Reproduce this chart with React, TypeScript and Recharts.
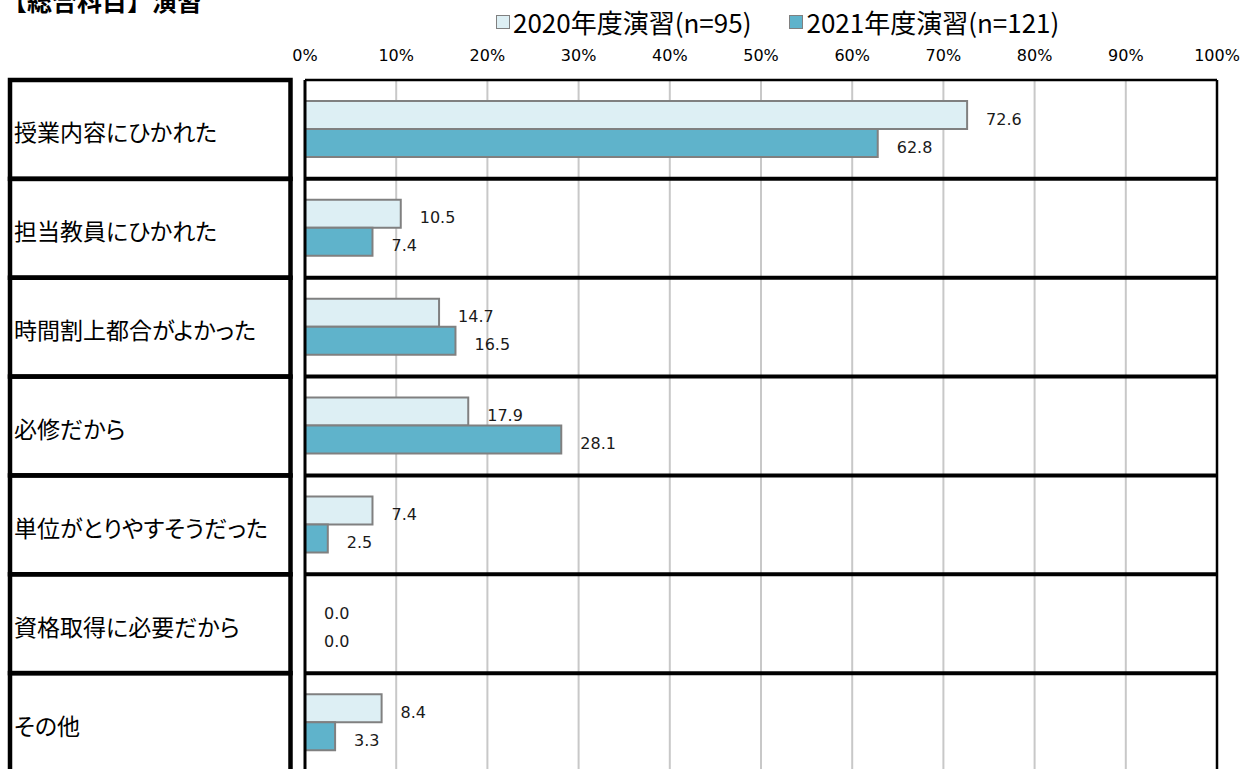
import { BarChart, Bar, XAxis, YAxis, CartesianGrid, Legend, LabelList, ReferenceLine, Rectangle } from 'recharts';

// 回答項目と各年度の割合(%)
const categories = [
  '授業内容にひかれた',
  '担当教員にひかれた',
  '時間割上都合がよかった',
  '必修だから',
  '単位がとりやすそうだった',
  '資格取得に必要だから',
  'その他',
];
const values2020 = [72.6, 10.5, 14.7, 17.9, 7.4, 0.0, 8.4];
const values2021 = [62.8, 7.4, 16.5, 28.1, 2.5, 0.0, 3.3];
const xTicks = [0, 10, 20, 30, 40, 50, 60, 70, 80, 90, 100];

const seriesNames = ['2020年度演習(n=95)', '2021年度演習(n=121)'];
const colors = ['#ddeff4', '#5fb3cb'];
const edge = '#808080';

const title = '【総合科目】演習';

// レイアウト
const CHART_W = 1253;
const CHART_H = 780;
const MARGIN = { top: 50, right: 36, bottom: 8, left: 10 };
const Y_AXIS_W = 295;
const X_AXIS_H = 30;
const PLOT_L = MARGIN.left + Y_AXIS_W;
const PLOT_R = CHART_W - MARGIN.right;
const PLOT_H = CHART_H - MARGIN.top - X_AXIS_H - MARGIN.bottom;
const ROW = PLOT_H / categories.length;
const BOX_L = 10;
const BOX_R = 290.5;

const data = categories.map((name, i) => ({
  name,
  y2020: values2020[i],
  y2021: values2021[i],
}));

// 左側の項目ボックス + 行区切り線
const CategoryTick = (props: any) => {
  const { y, payload } = props;
  const top = y - ROW / 2;
  const bottom = y + ROW / 2;
  return (
    <g>
      <rect x={BOX_L} y={top} width={BOX_R - BOX_L} height={ROW} fill="none" stroke="#000" strokeWidth={4.5} />
      <text
        x={14}
        y={y + 2}
        dominantBaseline="central"
        fontSize={23}
        fontFamily="Noto Sans CJK JP"
        fill="#000"
        style={{ fontFeatureSettings: '"palt"' }}
      >
        {payload.value}
      </text>
      <line x1={PLOT_L} x2={PLOT_R} y1={bottom} y2={bottom} stroke="#000" strokeWidth={4} />
    </g>
  );
};

const ValueLabel = (props: any) => {
  const { x, y, width, height, value } = props;
  return (
    <text
      x={x + width + 19}
      y={y + height / 2 + 4}
      dominantBaseline="central"
      fontSize={16}
      fontFamily="DejaVu Sans"
      fill="#1a1a1a"
    >
      {Number(value).toFixed(1)}
    </text>
  );
};

// 0% の棒は枠線も描かない
const BarShape = (props: any) => (props.width < 0.5 ? <g /> : <Rectangle {...props} />);

const LegendBox = () => (
  <div style={{ display: 'flex', alignItems: 'center', fontFamily: 'Noto Sans CJK JP', fontSize: 26, color: '#000', whiteSpace: 'nowrap' }}>
    {seriesNames.map((n, i) => (
      <div key={n} style={{ display: 'flex', alignItems: 'center', marginRight: i === 0 ? 38 : 0 }}>
        <span style={{ display: 'inline-block', width: 12, height: 12, background: colors[i], border: `1.5px solid ${edge}`, marginRight: 3 }} />
        <span>{n}</span>
      </div>
    ))}
  </div>
);

export default function App() {
  return (
    <div style={{ position: 'fixed', left: 0, top: 0, width: 1253, height: 769, overflow: 'hidden', background: '#fff' }}>
      <div
        style={{
          position: 'absolute',
          left: 2,
          top: -18,
          fontFamily: 'Noto Sans CJK JP',
          fontSize: 25,
          fontWeight: 'bold',
          color: '#000',
          whiteSpace: 'nowrap',
        }}
      >
        {title}
      </div>
      <BarChart
        width={CHART_W}
        height={CHART_H}
        data={data}
        layout="vertical"
        margin={MARGIN}
        barSize={28}
        barGap={0}
      >
        <CartesianGrid horizontal={false} stroke="#c8c8c8" strokeWidth={2} />
        <XAxis
          type="number"
          orientation="top"
          domain={[0, 100]}
          ticks={xTicks}
          interval={0}
          height={X_AXIS_H}
          tickFormatter={(v) => `${v}%`}
          tickLine={false}
          tickSize={0}
          tickMargin={19}
          axisLine={{ stroke: '#000', strokeWidth: 2.5 }}
          tick={{ fill: '#000', fontSize: 16, fontFamily: 'DejaVu Sans' }}
        />
        <YAxis
          type="category"
          dataKey="name"
          width={Y_AXIS_W}
          interval={0}
          tickLine={false}
          axisLine={{ stroke: '#000', strokeWidth: 3 }}
          tick={<CategoryTick />}
        />
        <ReferenceLine x={100} stroke="#000" strokeWidth={2.5} />
        <Legend
          layout="horizontal"
          verticalAlign="middle"
          align="center"
          content={<LegendBox />}
          wrapperStyle={{ top: 3, left: 496, width: 'auto', height: 'auto' }}
        />
        <Bar
          dataKey="y2020"
          name={seriesNames[0]}
          fill={colors[0]}
          stroke={edge}
          strokeWidth={2}
          minPointSize={0.01}
          shape={<BarShape />}
          isAnimationActive={false}
        >
          <LabelList dataKey="y2020" content={<ValueLabel />} />
        </Bar>
        <Bar
          dataKey="y2021"
          name={seriesNames[1]}
          fill={colors[1]}
          stroke={edge}
          strokeWidth={2}
          minPointSize={0.01}
          shape={<BarShape />}
          isAnimationActive={false}
        >
          <LabelList dataKey="y2021" content={<ValueLabel />} />
        </Bar>
      </BarChart>
    </div>
  );
}
